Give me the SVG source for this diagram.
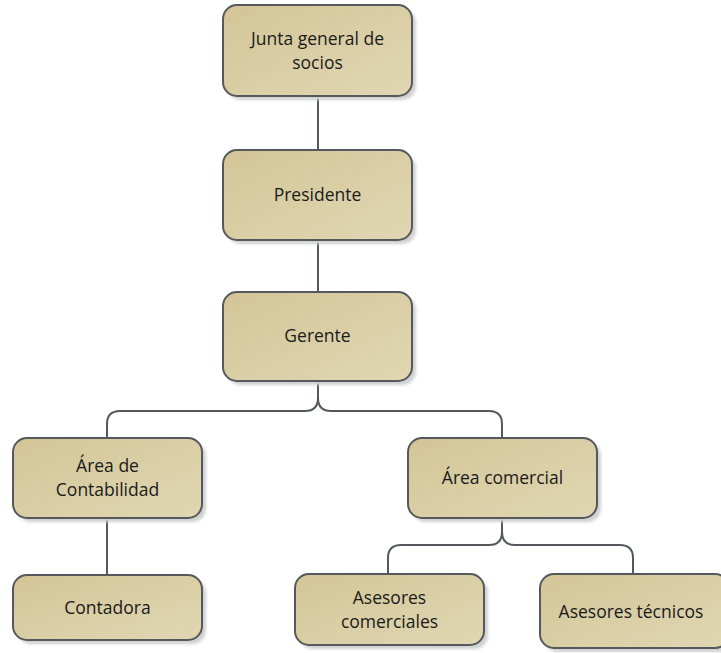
<svg xmlns="http://www.w3.org/2000/svg" width="721" height="653" viewBox="0 0 721 653">
<defs>
<linearGradient id="g" x1="0" y1="0" x2="1" y2="1">
<stop offset="0" stop-color="#d3c597"/>
<stop offset="1" stop-color="#e0d7b3"/>
</linearGradient>
<filter id="sh" x="-10%" y="-10%" width="130%" height="130%">
<feGaussianBlur stdDeviation="1.5"/>
</filter>
</defs>
<style>
.box{fill:url(#g);stroke:#55585c;stroke-width:2}
.shadow{fill:#d0d0d0;filter:url(#sh)}
.lbl{font-family:"Open Sans","Liberation Sans",sans-serif;font-size:17.5px;fill:#1a1a1a;text-anchor:middle}
.conn{fill:none;stroke:#55585c;stroke-width:2}
</style>
<rect width="721" height="653" fill="#ffffff"/>
<g id="connectors">
<path class="conn" d="M318 96V150"/>
<path class="conn" d="M318 240V292"/>
<path class="conn" d="M318 381V398Q318 411 305 411H120Q107 411 107 424V438"/>
<path class="conn" d="M318 398Q318 411 331 411H489Q502 411 502 424V438"/>
<path class="conn" d="M107 518V575"/>
<path class="conn" d="M502 518V532Q502 545 489 545H401Q388 545 388 558V574"/>
<path class="conn" d="M502 532Q502 545 515 545H620Q633 545 633 558V574"/>
</g>
<g id="n1">
<rect class="shadow" x="227" y="9" width="189" height="91" rx="14"/>
<rect class="box" x="223" y="5" width="189" height="91" rx="14"/>
<text class="lbl" x="317.5" y="45">Junta general de</text>
<text class="lbl" x="317.5" y="69">socios</text>
</g>
<g id="n2">
<rect class="shadow" x="227" y="154" width="189" height="90" rx="14"/>
<rect class="box" x="223" y="150" width="189" height="90" rx="14"/>
<text class="lbl" x="317.5" y="201">Presidente</text>
</g>
<g id="n3">
<rect class="shadow" x="227" y="296" width="189" height="89" rx="14"/>
<rect class="box" x="223" y="292" width="189" height="89" rx="14"/>
<text class="lbl" x="317.5" y="342">Gerente</text>
</g>
<g id="n4">
<rect class="shadow" x="17" y="442" width="189" height="80" rx="14"/>
<rect class="box" x="13" y="438" width="189" height="80" rx="14"/>
<text class="lbl" x="107.5" y="472">Área de</text>
<text class="lbl" x="107.5" y="496">Contabilidad</text>
</g>
<g id="n5">
<rect class="shadow" x="17" y="579" width="189" height="65" rx="14"/>
<rect class="box" x="13" y="575" width="189" height="65" rx="14"/>
<text class="lbl" x="107.5" y="614">Contadora</text>
</g>
<g id="n6">
<rect class="shadow" x="412" y="442" width="189" height="80" rx="14"/>
<rect class="box" x="408" y="438" width="189" height="80" rx="14"/>
<text class="lbl" x="502.5" y="484">Área comercial</text>
</g>
<g id="n7">
<rect class="shadow" x="299" y="578" width="189" height="71" rx="14"/>
<rect class="box" x="295" y="574" width="189" height="71" rx="14"/>
<text class="lbl" x="389.5" y="604">Asesores</text>
<text class="lbl" x="389.5" y="628">comerciales</text>
</g>
<g id="n8">
<rect class="shadow" x="544" y="578" width="189" height="74" rx="14"/>
<rect class="box" x="540" y="574" width="189" height="74" rx="14"/>
<text class="lbl" x="631" y="618">Asesores técnicos</text>
</g>
</svg>
